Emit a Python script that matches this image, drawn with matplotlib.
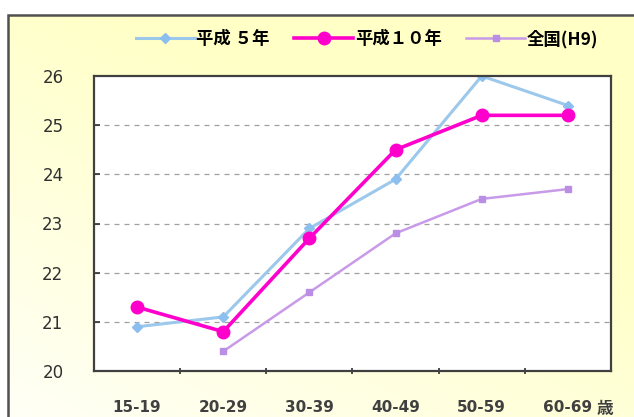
import numpy as np
import matplotlib.pyplot as plt
from matplotlib.patches import Rectangle

plt.rcParams['font.family'] = ['Noto Sans CJK JP', 'DejaVu Sans']

# age groups and series
ages = ['15-19', '20-29', '30-39', '40-49', '50-59', '60-69']
h5 = [20.9, 21.1, 22.9, 23.9, 26.0, 25.4]
h10 = [21.3, 20.8, 22.7, 24.5, 25.2, 25.2]
zenkoku = [np.nan, 20.4, 21.6, 22.8, 23.5, 23.7]
labels = ['平成 ５年', '平成１０年', '全国(H9)']
yticks = [20, 21, 22, 23, 24, 25, 26]

W, H = 634, 417
fig = plt.figure(figsize=(W / 100, H / 100), dpi=100)

# yellow gradient background behind the chart
bg = fig.add_axes([0, 0, 1, 1], zorder=0)
gx, gy = np.meshgrid(np.linspace(0, 1, 200), np.linspace(0, 1, 200))
t = np.clip(0.55 * gx + 0.75 * gy + 0.15, 0, 1)
c0 = np.array([1.0, 1.0, 1.0])
c1 = np.array([1.0, 1.0, 0.78])
img = c0 + (c1 - c0) * t[..., None]
bg.imshow(img, extent=[8 / W, 1.01, -0.01, 1 - 15 / H],
          origin='lower', aspect='auto')
bg.set_xlim(0, 1)
bg.set_ylim(0, 1)
bg.add_patch(Rectangle((8 / W, -0.05), 1.1, 1.05 - 15 / H,
                       fill=False, ec='#505050', lw=1.8))
bg.axis('off')

ax = fig.add_axes([94 / W, 46 / H, 517 / W, 295 / H], zorder=1)
ax.set_facecolor('white')
x = np.arange(len(ages))

ax.plot(x, h5, color='#9cc8ec', lw=2.2, marker='D', ms=5,
        mfc='#8dbfee', mec='#8dbfee', label=labels[0])
ax.plot(x, h10, color='#ff00cc', lw=2.6, marker='o', ms=9,
        mfc='#ff00cc', mec='#ff00cc', label=labels[1])
ax.plot(x, zenkoku, color='#c89ae8', lw=1.8, marker='s', ms=4,
        mfc='#bb8ee6', mec='#bb8ee6', label=labels[2])

ax.set_xlim(-0.5, len(ages) - 0.5)
ax.set_ylim(20, 26)
ax.set_yticks(yticks)
ax.set_yticklabels([str(v) for v in yticks], fontsize=12,
                   family='DejaVu Sans', color='#303030')
ax.set_xticks(x)
ax.set_xticklabels(ages, fontsize=11, family='DejaVu Sans',
                   fontweight='bold', color='#404040')
ax.set_xticks(np.arange(0.5, len(ages) - 1, 1), minor=True)
ax.tick_params(axis='x', which='major', length=0, pad=21)
ax.tick_params(axis='x', which='minor', length=4, direction='inout',
               width=1.2, color='#303030')
ax.tick_params(axis='y', length=4, direction='in', pad=22,
               width=1.2, color='#303030')

# unit after the last age group, on the tick label line
ax.annotate('歳', xy=(5.33, 0), xycoords=('data', 'axes fraction'),
            xytext=(0, -21), textcoords='offset points',
            fontsize=12, fontweight='bold', ha='left', va='top',
            color='#404040', annotation_clip=False)

for v in yticks[1:-1]:
    ax.axhline(v, color='#a0a0a0', lw=0.9, ls=(0, (4, 4)), zorder=0)

for s in ax.spines.values():
    s.set_color('#404040')
    s.set_linewidth(1.6)

fig.legend(loc='center', bbox_to_anchor=(367 / W, 1 - 39 / H), ncol=3,
           frameon=False, handlelength=3.4, handletextpad=0.1,
           columnspacing=1.4,
           prop={'size': 12.5, 'weight': 'bold',
                 'family': ['Noto Sans CJK JP', 'DejaVu Sans']})

fig.savefig('out.png', dpi=100)
